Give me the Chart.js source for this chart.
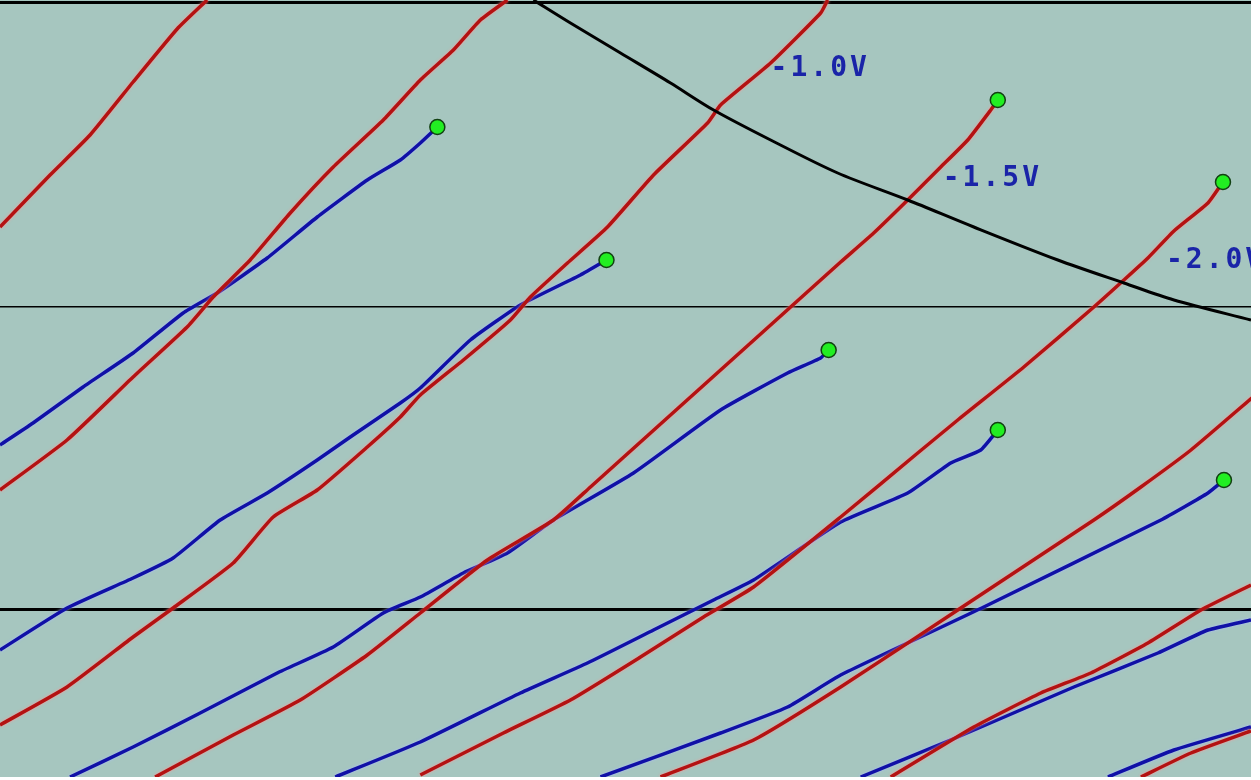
<!DOCTYPE html>
<html>
<head>
<meta charset="utf-8">
<script src="https://cdn.jsdelivr.net/npm/chart.js@4.4.1/dist/chart.umd.min.js"></script>
<style>
  html, body { margin: 0; padding: 0; background: #ffffff; }
  #wrap { position: absolute; left: 0; top: 0; width: 1251px; height: 777px; }
</style>
</head>
<body>
<div id="wrap"><canvas id="scope"></canvas></div>
<script>
// traces, x 0..125, y 0..77.7 (arbitrary units)
var red1 = [[0,55.0],[5.0,60.2],[9.0,64.2],[13.3,69.5],[17.7,74.8],[20.7,77.7]];
var red2 = [[0,28.7],[6.7,33.7],[13.3,40.0],[18.7,45.0],[21.3,48.0],[25.0,51.7],[29.0,56.4],[33.3,61.0],[38.3,65.7],[42.0,69.7],[45.3,72.7],[48.0,75.7],[50.7,77.7]];
var red3 = [[0,5.2],[6.7,9.0],[13.3,14.0],[17.3,16.9],[23.3,21.4],[27.3,26.0],[31.7,28.7],[36.7,33.0],[40.0,36.0],[42.0,38.2],[46.3,41.7],[51.0,45.7],[53.0,48.0],[56.7,51.4],[60.7,55.0],[65.3,60.2],[70.7,65.4],[72.0,67.2],[77.0,71.4],[82.0,76.4],[82.7,77.7]];
var red4 = [[15.5,0],[23.3,4.2],[30.0,7.7],[36.7,12.2],[42.0,16.4],[48.7,21.7],[55.3,25.7],[59.0,29.0],[65.0,34.4],[71.0,39.8],[75.0,43.4],[79.0,47.0],[84.0,51.5],[87.3,54.4],[90.7,57.7],[94.0,61.0],[96.7,63.7],[99.0,66.7],[99.7,67.7]];
var red5 = [[42.0,0.2],[50.3,4.4],[57.0,7.7],[64.0,12.0],[70.3,16.0],[75.3,19.0],[84.0,26.0],[91.7,32.4],[95.7,35.7],[102.3,41.0],[109.3,47.0],[112.3,49.7],[114.7,51.9],[117.3,54.6],[120.7,57.4],[122.2,59.5]];
var red6 = [[66.0,0],[75.3,3.7],[84.0,9.0],[95.7,16.7],[109.3,25.7],[114.0,29.0],[119.0,32.7],[125.2,38.0]];
var red7 = [[89.0,0],[97.3,5.0],[104.0,8.4],[109.0,10.4],[114.7,13.4],[120.0,16.7],[125.0,19.2]];
var red8 = [[114.0,0],[119.0,2.4],[125.0,4.6]];

var blue1 = [[0,33.2],[3.3,35.4],[8.3,39.0],[13.3,42.4],[18.3,46.4],[21.7,48.4],[26.7,51.9],[31.7,56.0],[36.7,59.7],[40.0,61.7],[42.0,63.4],[43.7,65.0]];
var blue2 = [[0,12.7],[6.7,16.9],[13.3,19.9],[17.3,21.9],[22.0,25.7],[26.7,28.4],[31.7,31.7],[35.0,34.0],[40.0,37.4],[42.0,38.9],[47.0,43.7],[52.0,47.2],[58.0,50.2],[60.6,51.7]];
var blue3 = [[7.0,0],[13.3,3.0],[20.0,6.4],[27.7,10.4],[33.3,13.0],[38.3,16.4],[42.0,18.0],[46.3,20.4],[50.7,22.4],[55.3,25.7],[63.3,30.4],[72.0,36.7],[78.7,40.4],[82.0,41.9],[82.8,42.7]];
var blue4 = [[33.5,0],[42.0,3.5],[52.0,8.4],[58.7,11.4],[65.3,14.7],[71.3,17.7],[75.3,19.7],[84.0,25.5],[90.7,28.4],[95.0,31.4],[98.0,32.7],[99.7,34.7]];
var blue5 = [[60.0,0],[72.0,4.4],[78.7,7.0],[84.0,10.2],[98.3,17.0],[116.0,25.7],[120.7,28.4],[122.3,29.7]];
var blue6 = [[86.0,0],[95.7,4.0],[107.3,9.0],[115.7,12.4],[120.7,14.7],[125.0,15.7]];
var blue7 = [[110.7,0],[117.3,2.7],[125.0,5.0]];

// limit curve
var limitCurve = [[53.3,77.7],[57.0,75.4],[62.0,72.4],[67.0,69.4],[71.3,66.7],[77.0,63.7],[83.7,60.4],[90.7,57.7],[97.3,55.0],[105.7,51.7],[112.3,49.4],[117.3,47.7],[125.0,45.7]];

// end markers (green dots)
var endX = [43.7, 60.6, 82.8, 99.7, 122.3, 99.7, 122.2];
var endY = [65.0, 51.7, 42.7, 34.7, 29.7, 67.7, 59.5];

// voltage labels
var labelText = ["-1.0V", "-1.5V", "-2.0V"];
var labelX = [77.0, 94.2, 116.5];
var labelY = [70.8, 59.8, 51.6];

// horizontal reference lines
var refLines = [16.8, 47.0, 77.5];

function pts(arr) {
    return arr.map(function (p) { return { x: p[0], y: p[1] }; });
}

var reds = [red1, red2, red3, red4, red5, red6, red7, red8];
var blues = [blue1, blue2, blue3, blue4, blue5, blue6, blue7];

var datasets = [];
reds.forEach(function (r) {
    datasets.push({ data: pts(r), showLine: true, borderColor: "#b31212", borderWidth: 3.5,
        pointRadius: 0, tension: 0.15, halo: "rgba(255,150,150,0.9)", order: 2 });
});
blues.forEach(function (b) {
    datasets.push({ data: pts(b), showLine: true, borderColor: "#1010a6", borderWidth: 3.5,
        pointRadius: 0, tension: 0.15, halo: "rgba(170,190,255,0.9)", order: 2 });
});
datasets.push({ data: pts(limitCurve), showLine: true, borderColor: "#000000", borderWidth: 3,
    pointRadius: 0, tension: 0.3, order: 1 });
datasets.push({
    data: endX.map(function (x, i) { return { x: x, y: endY[i] }; }),
    showLine: false, pointRadius: 7.5, pointBackgroundColor: "#22ee22",
    pointBorderColor: "#124012", pointBorderWidth: 1.5, order: 0
});

var scopeBg = {
    id: "scopeBg",
    beforeDraw: function (chart) {
        var a = chart.chartArea, ctx = chart.ctx;
        ctx.save();
        ctx.fillStyle = "#a6c6bf";
        ctx.fillRect(a.left, a.top, a.right - a.left, a.bottom - a.top);
        ctx.restore();
    },
    beforeDatasetDraw: function (chart, args) {
        var ds = chart.data.datasets[args.index];
        chart.ctx.save();
        if (ds.halo) {
            chart.ctx.shadowColor = ds.halo;
            chart.ctx.shadowBlur = 3;
        }
    },
    afterDatasetDraw: function (chart) {
        chart.ctx.restore();
    },
    afterDatasetsDraw: function (chart) {
        var ctx = chart.ctx, a = chart.chartArea;
        ctx.save();
        ctx.beginPath();
        ctx.rect(a.left, a.top, a.right - a.left, a.bottom - a.top);
        ctx.clip();
        ctx.fillStyle = "#1a24a8";
        ctx.font = "bold 28px 'DejaVu Sans Mono'";
        ctx.letterSpacing = "3px";
        ctx.textBaseline = "middle";
        labelText.forEach(function (t, i) {
            ctx.fillText(t, chart.scales.x.getPixelForValue(labelX[i]),
                chart.scales.y.getPixelForValue(labelY[i]));
        });
        ctx.restore();
    }
};

new Chart(document.getElementById("scope").getContext("2d"), {
    type: "scatter",
    data: { datasets: datasets },
    options: {
        responsive: true,
        maintainAspectRatio: false,
        animation: false,
        layout: { padding: 0, autoPadding: false },
        plugins: { legend: { display: false }, tooltip: { enabled: false } },
        scales: {
            x: { type: "linear", min: 0, max: 125, display: false },
            y: {
                type: "linear", min: 0, max: 77.7,
                afterBuildTicks: function (axis) {
                    axis.ticks = refLines.map(function (v) { return { value: v }; });
                },
                ticks: { display: false },
                border: { display: false },
                grid: {
                    drawTicks: false,
                    color: "#000000",
                    lineWidth: function (c) { return c.index === 1 ? 1.5 : 3; }
                }
            }
        }
    },
    plugins: [scopeBg]
});
</script>
</body>
</html>
